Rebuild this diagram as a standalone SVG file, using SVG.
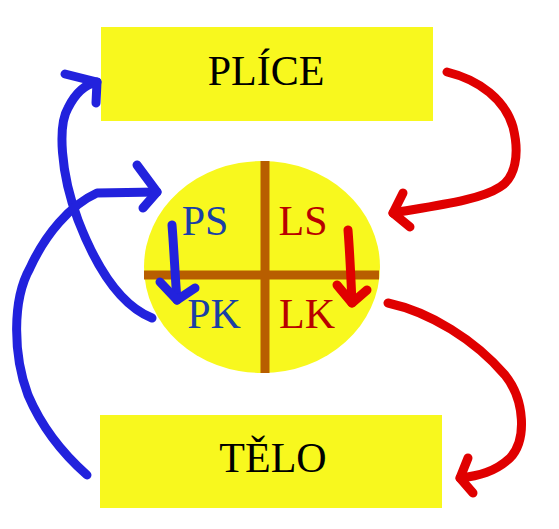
<svg xmlns="http://www.w3.org/2000/svg" width="559" height="529" viewBox="0 0 559 529">
<style>
.box{fill:#f8f81e}
.lbl{font-family:"Liberation Serif","Times New Roman",serif;font-size:42px;text-anchor:middle}
.blk{fill:#000}
.bt{fill:#1a3fa6}
.rt{fill:#b80000}
.sep{stroke:#b85e00;stroke-width:9;fill:none}
.ab{stroke:#2222dd;stroke-width:9;fill:none;stroke-linecap:round;stroke-linejoin:round}
.ar{stroke:#e00000;stroke-width:9;fill:none;stroke-linecap:round;stroke-linejoin:round}
</style>
<rect width="559" height="529" fill="#fff"/>
<g id="plice">
<rect class="box" x="101" y="27" width="332" height="94"/>
<text class="lbl blk" x="266" y="85">PLÍCE</text>
</g>
<g id="telo">
<rect class="box" x="100" y="415" width="342" height="93"/>
<text class="lbl blk" x="273" y="472">TĚLO</text>
</g>
<g id="srdce">
<ellipse class="box" cx="262" cy="267" rx="118" ry="106"/>
<line class="sep" x1="265" y1="161" x2="265" y2="373"/>
<line class="sep" x1="144" y1="275" x2="379" y2="275"/>
</g>
<g id="ps"><text class="lbl bt" x="205" y="235">PS</text></g>
<g id="ls"><text class="lbl rt" x="303" y="235">LS</text></g>
<g id="pk"><text class="lbl bt" x="214" y="328">PK</text></g>
<g id="lk"><text class="lbl rt" x="307" y="328">LK</text></g>
<g id="connectors">
<path class="ab" d="M152,318 C122,306 98,272 78,220 C60,172 58,125 68,108 C76,92 86,84 97,82"/>
<path class="ab" d="M65,74 L97,82 L96,103"/>
<path class="ab" d="M87,475 C70,460 45,435 28,395 C13,355 12,300 30,268 C45,235 70,205 97,193 L157,192"/>
<path class="ab" d="M137,165 L157,192 L143,208"/>
<path class="ab" d="M172,225 C174,250 175,275 177,300"/>
<path class="ab" d="M160,282 L177,300 L195,288"/>
<path class="ar" d="M447,72 C480,80 505,100 513,127 C520,155 515,178 500,187 C480,200 440,205 393,213"/>
<path class="ar" d="M403,193 L393,213 L410,227"/>
<path class="ar" d="M348,230 C350,255 351,280 352,303"/>
<path class="ar" d="M337,285 L352,303 L367,290"/>
<path class="ar" d="M388,303 C430,312 475,340 505,375 C525,400 527,440 510,458 C495,472 478,476 460,478"/>
<path class="ar" d="M468,458 L460,478 L473,493"/>
</g>
</svg>
